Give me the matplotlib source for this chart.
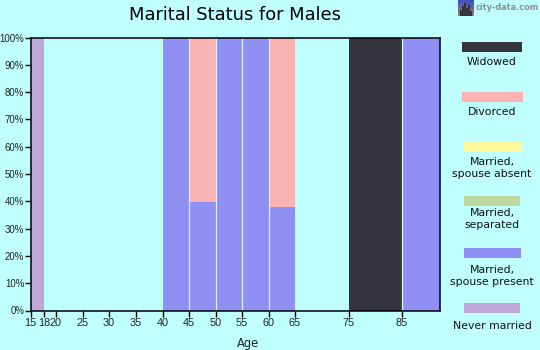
#!/usr/bin/env python3

import numpy as np
import matplotlib
matplotlib.use("Agg")
import matplotlib.pyplot as plt
from matplotlib.patches import Rectangle

W = 540
H = 350
BG = "#BFFFFF"

# age bins, left edge and right edge of every bar
binLeft = [15, 18, 20, 25, 30, 35, 40, 45, 50, 55, 60, 65, 75, 85]
binRight = [18, 20, 25, 30, 35, 40, 45, 50, 55, 60, 65, 75, 85, 92]

neverMarried = [100, 0, 0, 0, 0, 0, 0, 0, 0, 0, 0, 0, 0, 0]
spousePresent = [0, 0, 0, 0, 0, 0, 100, 39.8, 100, 100, 38, 0, 0, 100]
separated = [0, 0, 0, 0, 0, 0, 0, 0, 0, 0, 0, 0, 0, 0]
spouseAbsent = [0, 0, 0, 0, 0, 0, 0, 0, 0, 0, 0, 0, 0, 0]
divorced = [0, 0, 0, 0, 0, 0, 0, 60.2, 0, 0, 62, 0, 0, 0]
widowed = [0, 0, 0, 0, 0, 0, 0, 0, 0, 0, 0, 0, 100, 0]

xTicks = [15, 18, 20, 25, 30, 35, 40, 45, 50, 55, 60, 65, 75, 85]
yTicks = [0, 10, 20, 30, 40, 50, 60, 70, 80, 90, 100]

# bottom to top, same order as the stack
seriesNames = ["Never married", "Married,\nspouse present", "Married,\nseparated",
               "Married,\nspouse absent", "Divorced", "Widowed"]
seriesValues = [neverMarried, spousePresent, separated, spouseAbsent, divorced, widowed]
seriesColors = ["#BFA8D8", "#9090F4", "#C0D8A0", "#FFF799", "#FAB2B2", "#33343C"]

# legend layout in pixels: left, top, width of the swatch and y of the text centre
legendBoxes = [(464, 303, 56, 326), (464, 248, 57, 276), (464, 196, 56, 219),
               (463, 142, 59, 168), (462, 92, 61, 112), (462, 42, 60, 62)]

# the age axis is not quite even in the picture, so map it piece by piece
scaleAges = [15, 18, 20, 25, 30, 35, 40, 45, 50, 55, 60, 65, 75, 85, 92]
scalePixels = [0.0, 13.5, 25.5, 52.5, 78.5, 105.5, 132.5, 158.0, 185.0, 211.0, 238.0, 264.5,
               318.5, 371.0, 409.0]


def ageToPixel(age):
    return np.interp(age, scaleAges, scalePixels)


def pixelToAge(p):
    return np.interp(p, scalePixels, scaleAges)


plt.rcParams["font.family"] = ["DejaVu Sans"]

fig = plt.figure(figsize=(W / 100, H / 100), dpi=100, facecolor=BG)
ax = fig.add_axes([30.5 / W, 1 - 310.5 / H, 409 / W, 273 / H], facecolor=BG)
ax.set_xscale("function", functions=(ageToPixel, pixelToAge))

bottom = np.zeros(len(binLeft))
widths = np.array(binRight) - np.array(binLeft)
for vals, col in zip(seriesValues, seriesColors):
    vals = np.array(vals, dtype=float)
    ax.bar(binLeft, vals, widths, bottom=bottom, align="edge", color=col, linewidth=0)
    bottom += vals

# thin light gaps between neighbouring bars
for age in [45, 50, 55, 60, 85]:
    ax.axvline(age, color="#D8F4FF", linewidth=0.9, zorder=2)

ax.set_xlim(15, 92)
ax.set_ylim(0, 100)
ax.set_xticks(xTicks)
ax.set_xticklabels([str(t) for t in xTicks])
ax.set_xticks([], minor=True)
ax.set_yticks(yTicks)
ax.set_yticklabels([str(t) + "%" for t in yTicks])
ax.tick_params(axis="both", length=4, width=1, labelcolor="#222222")
ax.tick_params(axis="x", labelsize=7.8, pad=1.5)
ax.tick_params(axis="y", labelsize=6.9, pad=0.5)
for lab in ax.get_xticklabels() + ax.get_yticklabels():
    lab.set_family("Liberation Sans")
for s in ax.spines.values():
    s.set_linewidth(1.1)

fig.text(235 / W, 1 - 15 / H, "Marital Status for Males", fontsize=12.9, color="black",
         ha="center", va="center")
fig.text(248 / W, 1 - 343 / H, "Age", fontsize=8.3, color="#222222", ha="center", va="center")

# legend is drawn by hand on the figure
for name, col, box in zip(seriesNames, seriesColors, legendBoxes):
    left, top, wid, textY = box
    fig.add_artist(Rectangle((left / W, 1 - (top + 10) / H), wid / W, 10 / H,
                             transform=fig.transFigure, facecolor=col, linewidth=0))
    fig.text(492 / W, 1 - textY / H, name, fontsize=7.8, color="#111111",
             ha="center", va="center", linespacing=1.15)

# small skyline logo
logo = fig.add_axes([458 / W, 1 - 16 / H, 16 / W, 16 / H])
grad = np.linspace(0, 1, 16)[:, None, None]
sky = (1 - grad) * np.array([[[0.22, 0.32, 0.75]]]) + grad * np.array([[[0.62, 0.48, 0.35]]])
img = np.repeat(sky, 16, axis=1)
for col, h in zip(range(2, 14, 2), [6, 10, 13, 8, 11, 5]):
    img[16 - h:, col:col + 2] = [0.2, 0.2, 0.24]
logo.imshow(img, aspect="auto", interpolation="nearest")
logo.axis("off")
fig.text(476 / W, 1 - 8 / H, "city-data.com", fontsize=5.9, fontweight="bold", color="#909090",
         ha="left", va="center")

fig.savefig("out.png", dpi=100, facecolor=BG)
